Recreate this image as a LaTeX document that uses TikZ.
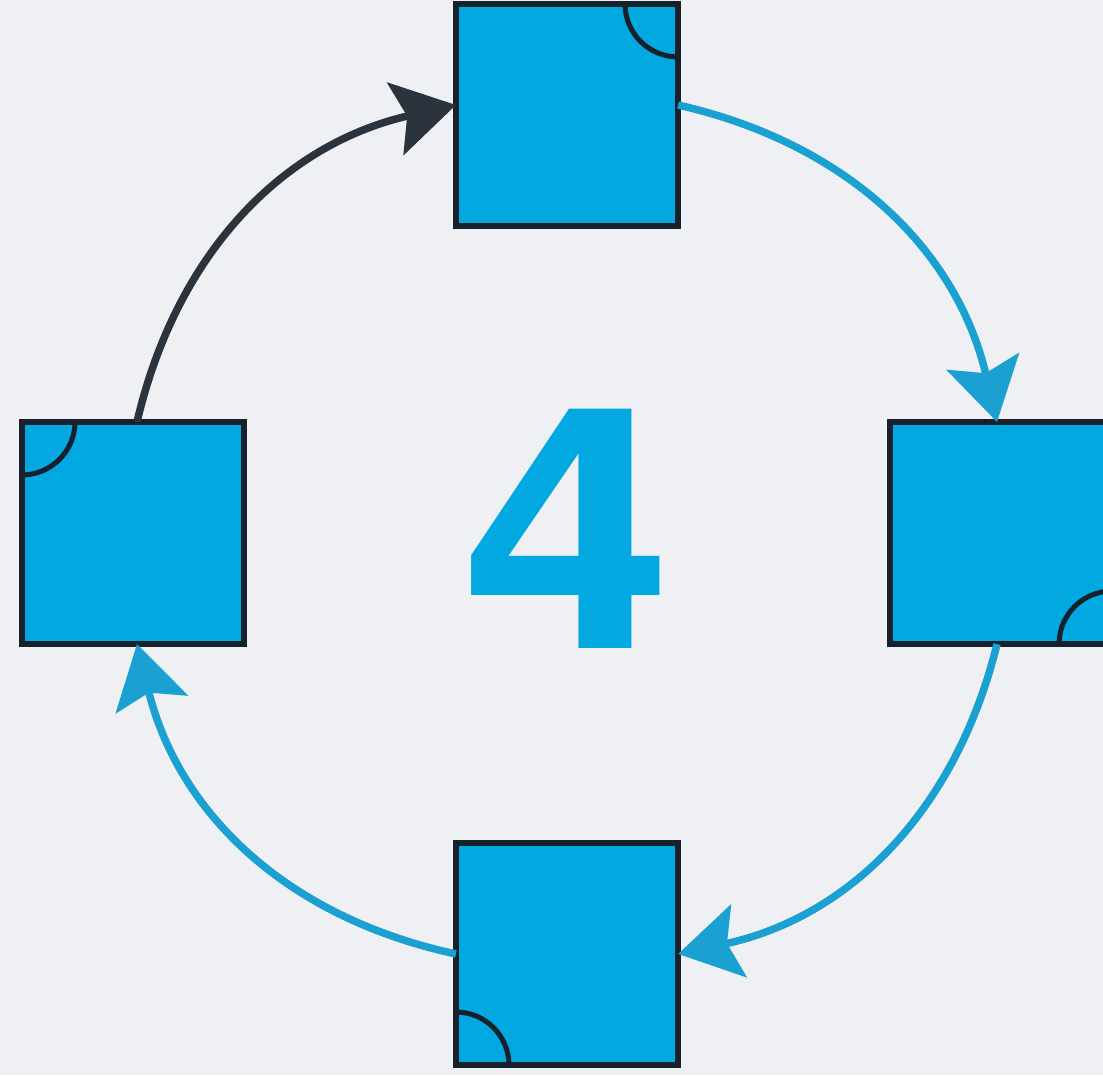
\documentclass[tikz,border=0pt]{standalone}
\usepackage{fontspec}
\usepackage{graphicx}
\setmainfont{TeX Gyre Heros}
\usetikzlibrary{arrows.meta}
\definecolor{bgray}{HTML}{EFF0F4}
\definecolor{sqblue}{HTML}{02A9E0}
\definecolor{arrblue}{HTML}{1BA0D2}
\definecolor{darkslate}{HTML}{2B333D}
\definecolor{edge}{HTML}{16212B}
\begin{document}
\begin{tikzpicture}[x=0.01cm, y=0.01cm,
  sq/.style={draw=edge, line width=0.06cm, fill=sqblue, minimum size=2.22cm, inner sep=0pt, outer sep=0pt},
  flow/.style={line width=0.075cm, -{Stealth[length=0.62cm, width=0.74cm, inset=0.12cm]}},
  corner/.style={draw=edge, line width=0.05cm}]
% Background
\fill[bgray] (0,0) rectangle (1103,1075);
\useasboundingbox (0,0) rectangle (1103,1075);

% Squares
\node[sq] (top) at (567, 960) {};
\node[sq] (left) at (133, 542) {};
\node[sq] (right) at (1001, 542) {};
\node[sq] (bottom) at (567, 121) {};

% Corner marks
\draw[corner] ([xshift=-0.53cm]top.north east) arc[start angle=180, end angle=270, radius=0.53cm];
\draw[corner] ([xshift=0.53cm]left.north west) arc[start angle=0, end angle=-90, radius=0.53cm];
\draw[corner] ([xshift=-0.53cm]right.south east) arc[start angle=180, end angle=90, radius=0.53cm];
\draw[corner] ([yshift=0.53cm]bottom.south west) arc[start angle=90, end angle=0, radius=0.53cm];

% Number
\node[text=sqblue, font=\bfseries\fontsize{96}{96}\selectfont] (num) at (568, 546) {\scalebox{1.12}[1]{4}};

% Arrows
\draw[flow, darkslate] ([xshift=0.04cm]left.north) to[bend left=32] ([yshift=0.1cm]top.west);
\draw[flow, arrblue] ([yshift=0.1cm]top.east) to[bend left=32] ([xshift=-0.04cm]right.north);
\draw[flow, arrblue] ([xshift=-0.04cm]right.south) to[bend left=32] (bottom.east);
\draw[flow, arrblue] (bottom.west) to[bend left=32] ([xshift=0.04cm]left.south);
\end{tikzpicture}
\end{document}
